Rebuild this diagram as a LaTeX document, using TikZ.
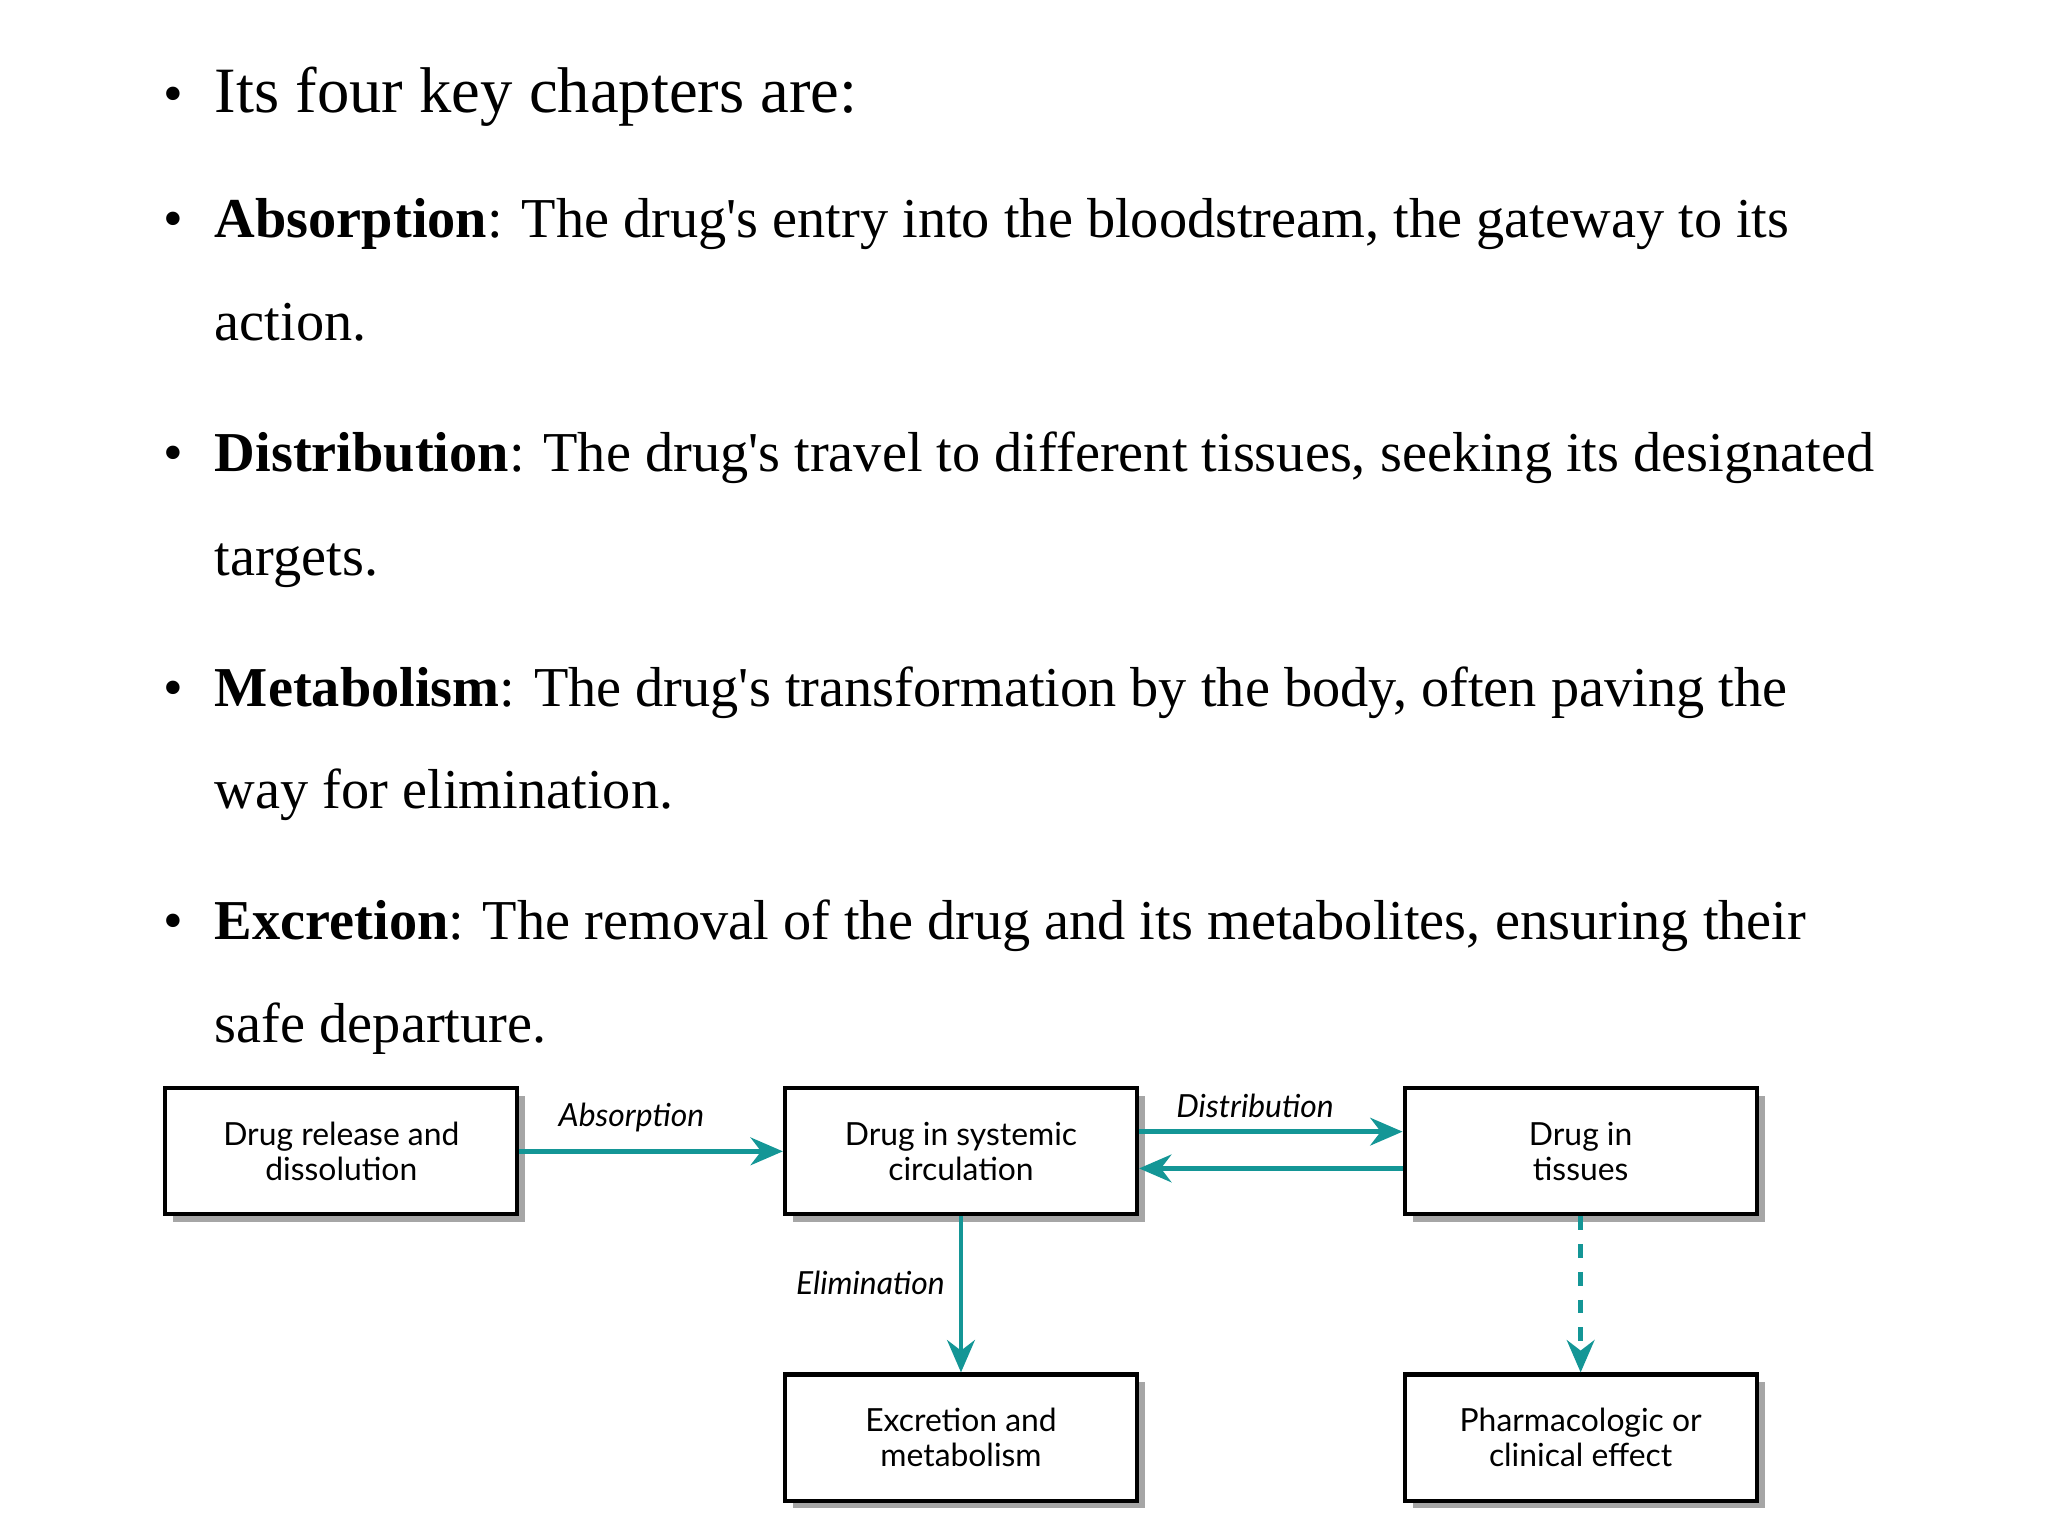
\documentclass[tikz,border=0pt]{standalone}
\usepackage{fontspec}
\setmainfont{Liberation Serif}
\newfontfamily\boxfont{Lato}
\usetikzlibrary{arrows.meta,shadows}
\definecolor{teal1}{RGB}{20,150,150}
\newcommand{\ap}{\textquotesingle}
\tikzset{
  txt/.style={anchor=base west,inner sep=0,font=\fontsize{12.2}{14}\selectfont},
  bul/.style={anchor=base,inner sep=0,font=\fontsize{12.2}{14}\selectfont},
  bx/.style={draw,line width=0.9pt,fill=white,minimum width=2.68cm,minimum height=0.96cm,align=center,font=\boxfont\fontsize{6.9}{7.6}\selectfont,drop shadow={shadow xshift=0.06cm,shadow yshift=-0.06cm,fill=black!35,opacity=1}},
  lbl/.style={font=\boxfont\itshape\fontsize{6.9}{8}\selectfont,inner sep=0},
  arr/.style={teal1,line width=1pt,-{Stealth[length=7pt,width=6pt]}}
}
\begin{document}
\begin{tikzpicture}[x=0.01cm,y=-0.01cm]
\useasboundingbox (0,0) rectangle (1560,1170);
\foreach \y/\n in {86/b1,181/b2,359/b3,538/b4,716/b5}{\node[bul] (\n) at (132,\y) {•};}
\node[txt,font=\fontsize{14}{16}\selectfont] (t1) at (163,86) {Its four key chapters are:};
\node[txt] (t2) at (163,181) {\textbf{Absorption}: The drug\ap s entry into the bloodstream, the gateway to its};
\node[txt] (t2b) at (163,259) {action.};
\node[txt] (t3) at (163,359) {\textbf{Distribution}: The drug\ap s travel to different tissues, seeking its designated};
\node[txt] (t3b) at (163,438) {targets.};
\node[txt] (t4) at (163,538) {\textbf{Metabolism}: The drug\ap s transformation by the body, often paving the};
\node[txt] (t4b) at (163,616) {way for elimination.};
\node[txt] (t5) at (163,716) {\textbf{Excretion}: The removal of the drug and its metabolites, ensuring their};
\node[txt] (t5b) at (163,794) {safe departure.};
\node[bx] (A) at (260,877) {Drug release and\\dissolution};
\node[bx] (B) at (732,877) {Drug in systemic\\circulation};
\node[bx] (C) at (1204,877) {Drug in\\tissues};
\node[bx] (D) at (732,1095) {Excretion and\\metabolism};
\node[bx] (E) at (1204,1095) {Pharmacologic or\\clinical effect};
\draw[arr] (A.east|-0,877) -- (B.west|-0,877);
\draw[arr] (B.east|-0,862) -- (C.west|-0,862);
\draw[arr] (C.west|-0,890) -- (B.east|-0,890);
\draw[arr] (B) -- (D);
\draw[arr,dash pattern=on 3pt off 3pt] (C) -- (E);
\node[lbl] (la) at (481,851) {Absorption};
\node[lbl] (ld) at (956,842) {Distribution};
\node[lbl] (le) at (663,977) {Elimination};
\end{tikzpicture}
\end{document}
